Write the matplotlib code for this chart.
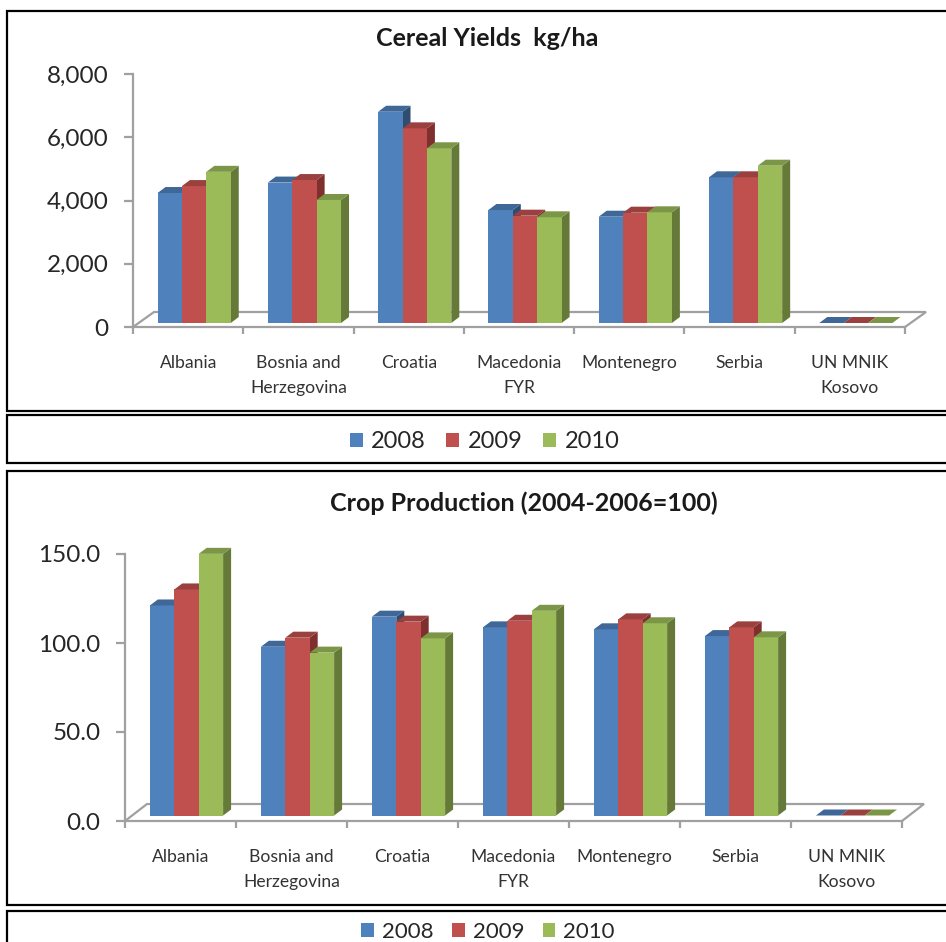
import matplotlib
matplotlib.use("Agg")
import matplotlib.pyplot as plt
from matplotlib.patches import Rectangle

W, H = 946, 942
plt.rcParams['font.family'] = ['Lato', 'DejaVu Sans']

categories = ["Albania", "Bosnia and\nHerzegovina", "Croatia", "Macedonia\nFYR",
              "Montenegro", "Serbia", "UN MNIK\nKosovo"]
series_names = ["2008", "2009", "2010"]

yields_2008 = [4110, 4440, 6680, 3573, 3361, 4607, 0]
yields_2009 = [4330, 4520, 6155, 3393, 3488, 4607, 0]
yields_2010 = [4780, 3890, 5525, 3342, 3500, 4974, 0]
yield_ticks = [0, 2000, 4000, 6000, 8000]
yield_tick_labels = ["0", "2,000", "4,000", "6,000", "8,000"]

crop_2008 = [118, 94.8, 111.7, 105.7, 104.6, 100.8, 0]
crop_2009 = [127, 99.9, 108.9, 109.4, 110.2, 105.7, 0]
crop_2010 = [147, 91.5, 99.5, 115, 108, 100.1, 0]
crop_ticks = [0, 50, 100, 150]
crop_tick_labels = ["0.0", "50.0", "100.0", "150.0"]

front_colors = ["#4F81BD", "#C0504D", "#9BBB59"]
top_colors = ["#3F6797", "#9A403E", "#7C9647"]
side_colors = ["#2F4D71", "#7F302E", "#657A38"]
GRAY = "#A0A0A0"

fig = plt.figure(figsize=(W / 100, H / 100), dpi=100, facecolor="white")


def frame(x0, y0, x1, y1):
    fig.add_artist(Rectangle((x0 / W, 1 - y1 / H), (x1 - x0) / W, (y1 - y0) / H,
                             transform=fig.transFigure, facecolor="white",
                             edgecolor="black", linewidth=1.6, zorder=0))


frame(6.5, 11, 960, 410.5)
frame(6.5, 415, 960, 463)
frame(6.5, 471, 960, 904.5)
frame(6.5, 911, 960, 970)


def panel(series, ticks, tick_labels, ymax, left, right, y0, ytop,
          floor_dx, floor_dy, bar_dx, bar_dy, title, title_x, title_y,
          legend_x, legend_y, legend_size):
    ax = fig.add_axes([left / W, 1 - y0 / H, (right - left) / W, (y0 - ytop) / H])
    ax.set_facecolor("none")
    n = len(categories)
    ax.set_xlim(0, n)
    ax.set_ylim(0, ymax)
    px_x = n / (right - left)
    px_y = ymax / (y0 - ytop)

    for s in ["top", "right"]:
        ax.spines[s].set_visible(False)
    for s in ["left", "bottom"]:
        ax.spines[s].set_color(GRAY)
        ax.spines[s].set_linewidth(1.6)

    ax.set_xticks(range(n + 1))
    ax.set_xticklabels([])
    ax.set_xticks([i + 0.5 for i in range(n)], minor=True)
    ax.set_xticklabels(categories, minor=True, fontsize=12.6, color="#333333",
                       linespacing=1.7)
    ax.tick_params(axis="x", which="major", length=5, width=1.6, color=GRAY)
    ax.tick_params(axis="x", which="minor", length=0, pad=20)
    ax.set_yticks(ticks)
    ax.set_yticklabels(tick_labels, fontsize=17.5, color="#262626")
    ax.tick_params(axis="y", length=6.5, width=1.6, color=GRAY, pad=11)

    # floor outline
    fx, fy = floor_dx * px_x, floor_dy * px_y
    ax.plot([0, fx, n + fx, n], [0, fy, fy, 0], color=GRAY, lw=1.6,
            zorder=1, clip_on=False, solid_joinstyle="miter")

    bar_w = 24.4 * px_x
    base = bar_dy * px_y
    shift = bar_dx * px_x
    sx, sy = 8 * px_x, 6 * px_y
    handles = []
    for k, values in enumerate(series):
        xs = [i + 0.5 + shift + (k - 1) * bar_w for i in range(n)]
        bars = ax.bar(xs, values, width=bar_w, bottom=base, color=front_colors[k],
                      zorder=3 + k, clip_on=False, label=series_names[k])
        handles.append(bars[0])
        for x, v in zip(xs, values):
            xl, xr = x - bar_w / 2, x + bar_w / 2
            t = base + v
            ax.fill([xl, xr, xr + sx, xl + sx], [t, t, t + sy, t + sy],
                    color=top_colors[k], lw=0, zorder=3 + k, clip_on=False)
            ax.fill([xr, xr + sx, xr + sx, xr], [base, base + sy, t + sy, t],
                    color=side_colors[k], lw=0, zorder=3 + k - 0.5, clip_on=False)

    fig.text(title_x / W, 1 - title_y / H, title, ha="center", va="center",
             fontsize=18, fontweight="bold", color="#1a1a1a")
    fig.legend(handles, series_names, loc="center",
               bbox_to_anchor=(legend_x / W, 1 - legend_y / H), ncols=3,
               frameon=False, fontsize=legend_size, handlelength=0.56,
               handleheight=0.56, handletextpad=0.36, columnspacing=0.85,
               labelcolor="#262626", borderpad=0, borderaxespad=0)


panel([yields_2008, yields_2009, yields_2010], yield_ticks, yield_tick_labels, 8000,
      133, 905, 327, 74, 21, 15, 6, 4,
      "Cereal Yields  kg/ha", 487, 38, 484.5, 442, 17)
panel([crop_2008, crop_2009, crop_2010], crop_ticks, crop_tick_labels, 150,
      125, 902, 821, 554, 22, 17, 6, 5.5,
      "Crop Production (2004-2006=100)", 524, 503, 488, 932, 16)

fig.savefig("out.png", dpi=100, facecolor="white")
